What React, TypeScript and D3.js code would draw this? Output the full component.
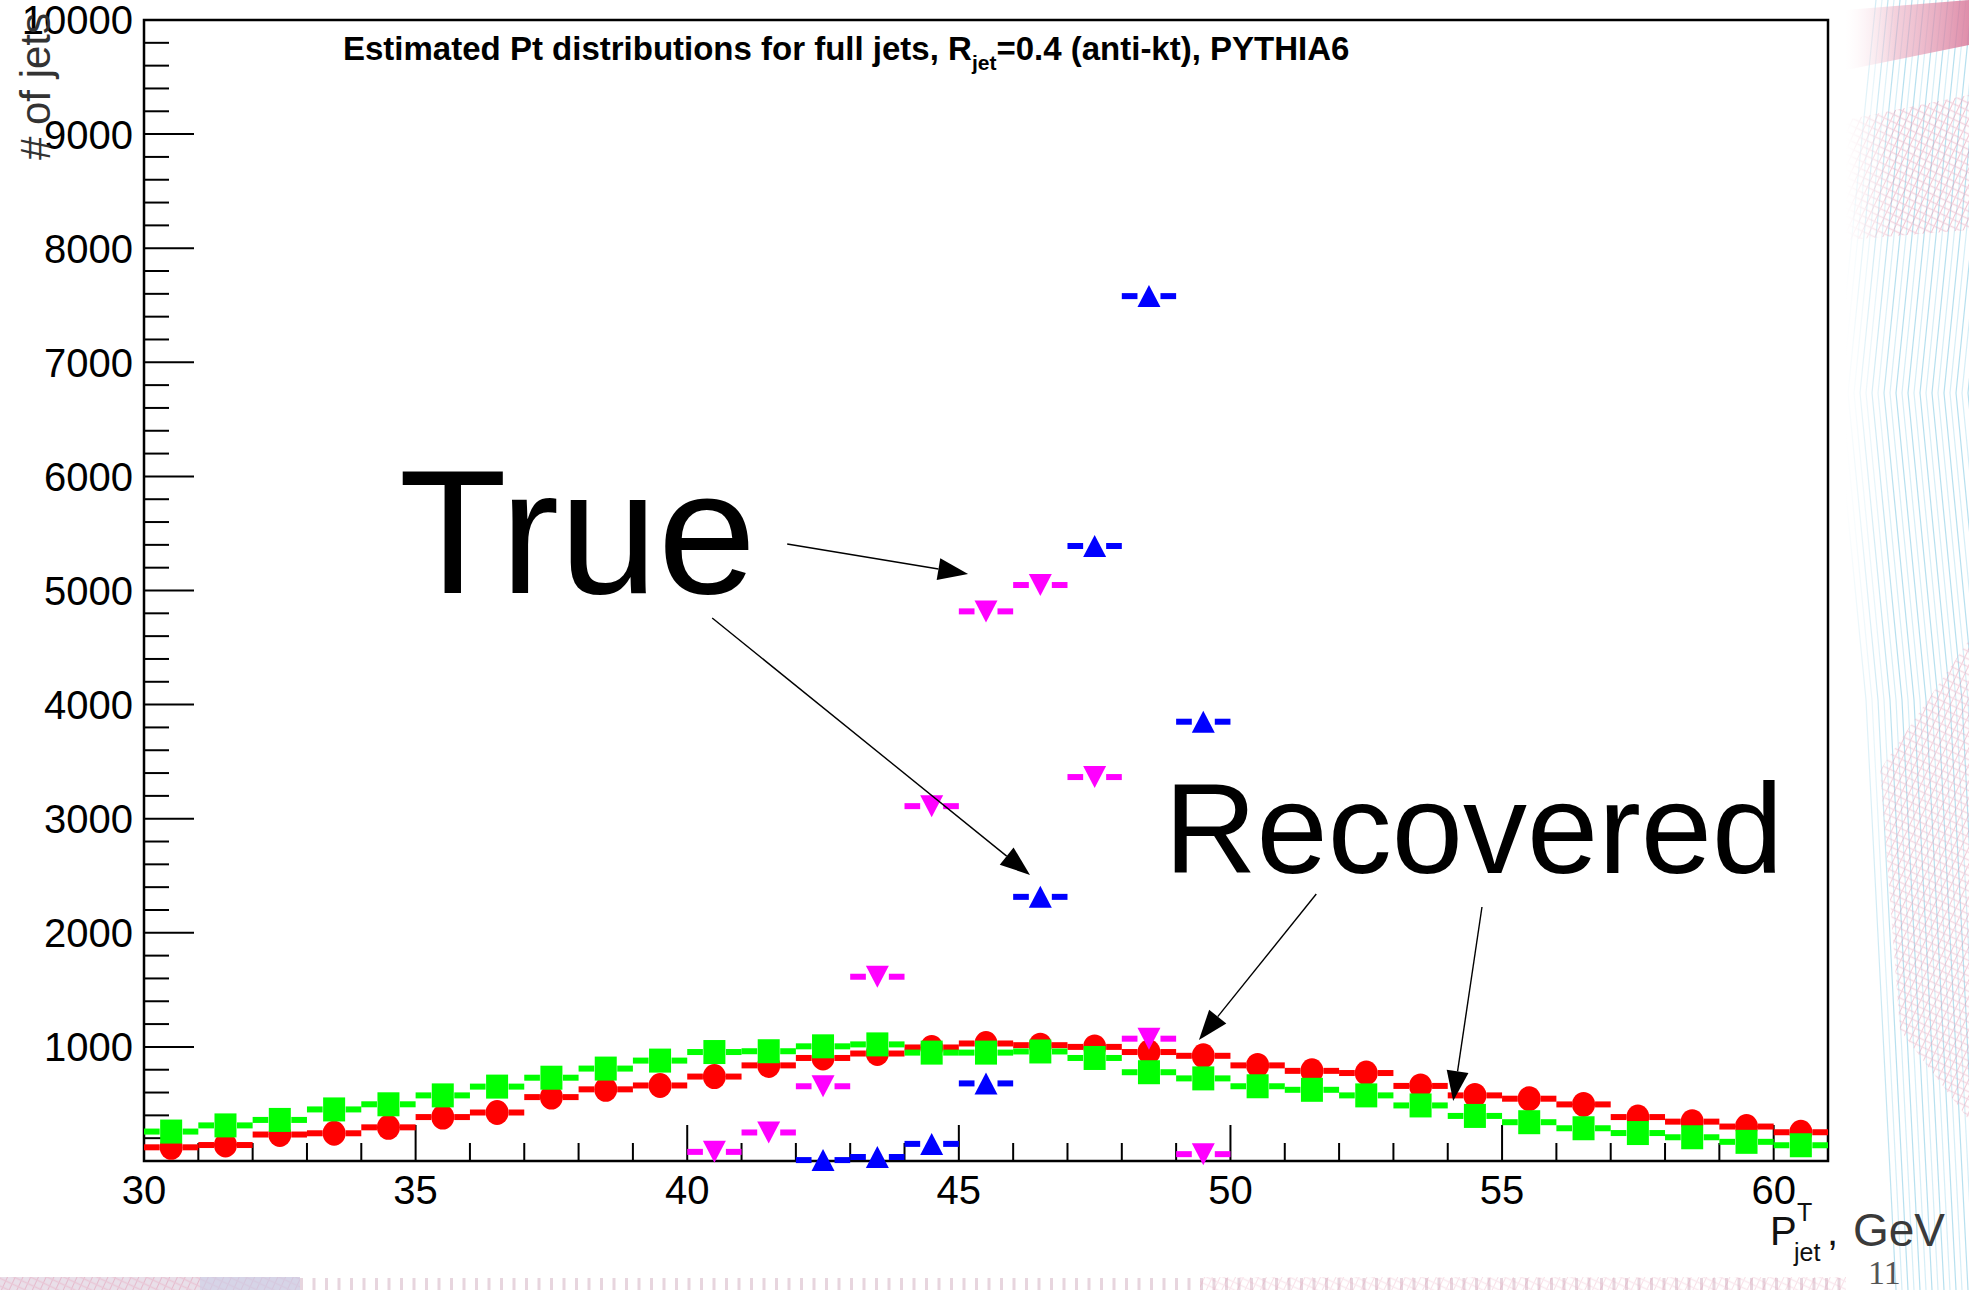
import React from "react";
import * as d3 from "d3";

const WIDTH = 1969;
const HEIGHT = 1290;

// 1 GeV bins between 30 and 61 GeV
const binCenters = [
  30.5, 31.5, 32.5, 33.5, 34.5, 35.5, 36.5, 37.5, 38.5, 39.5, 40.5, 41.5, 42.5, 43.5, 44.5, 45.5,
  46.5, 47.5, 48.5, 49.5, 50.5, 51.5, 52.5, 53.5, 54.5, 55.5, 56.5, 57.5, 58.5, 59.5, 60.5,
];

// Recovered spectra
const recoveredRed = [
  120, 140, 232, 243, 295, 385, 425, 560, 628, 662, 740, 838, 903, 942, 995, 1030, 1015, 1000, 955,
  922, 838, 790, 771, 658, 575, 546, 496, 385, 345, 302, 252,
];
const recoveredGreen = [
  258, 312, 360, 452, 497, 575, 652, 730, 810, 880, 955, 962, 1005, 1022, 950, 950, 960, 903, 778,
  724, 655, 624, 575, 487, 395, 340, 287, 245, 208, 168, 138,
];

// True spectra (only non-empty bins)
const trueBlueBins = [42.5, 43.5, 44.5, 45.5, 46.5, 47.5, 48.5, 49.5];
const trueBlue = [8, 35, 150, 680, 2315, 5390, 7580, 3850];
const trueMagentaBins = [40.5, 41.5, 42.5, 43.5, 44.5, 45.5, 46.5, 47.5, 48.5, 49.5];
const trueMagenta = [80, 250, 655, 1615, 3110, 4817, 5048, 3365, 1072, 60];

const xTickLabels = [30, 35, 40, 45, 50, 55, 60];
const yTickLabels = [1000, 2000, 3000, 4000, 5000, 6000, 7000, 8000, 9000, 10000];

// Annotation texts and arrows, in data coordinates (GeV, counts)
const annotationLabels = [
  { text: "True", px: 34.69, count: 4978, size: 177 },
  { text: "Recovered", px: 48.78, count: 2524, size: 128 },
];
const annotationArrows = [
  { x1: 41.84, y1: 5408, x2: 45.17, y2: 5145 },
  { x1: 40.46, y1: 4759, x2: 46.31, y2: 2507 },
  { x1: 51.58, y1: 2340, x2: 49.42, y2: 1060 },
  { x1: 54.63, y1: 2226, x2: 54.1, y2: 526 },
];

const FONT = "'Liberation Sans', Arial, Helvetica, sans-serif";

type Shape = "circle" | "square" | "up" | "down";

function Marker({ shape, cx, cy }: { shape: Shape; cx: number; cy: number }) {
  const h = 11.5;
  if (shape === "circle") return <ellipse cx={cx} cy={cy} rx={11.5} ry={12.5} />;
  if (shape === "square") return <rect x={cx - 11} y={cy - 12} width={22} height={24} />;
  if (shape === "up")
    return <polygon points={`${cx},${cy - 11} ${cx - h},${cy + 11} ${cx + h},${cy + 11}`} />;
  return <polygon points={`${cx},${cy + 11} ${cx - h},${cy - 11} ${cx + h},${cy - 11}`} />;
}

function Series({
  bins,
  values,
  color,
  shape,
  x,
  y,
}: {
  bins: number[];
  values: number[];
  color: string;
  shape: Shape;
  x: d3.ScaleLinear<number, number>;
  y: d3.ScaleLinear<number, number>;
}) {
  const half = 11.5;
  const barH = 6;
  return (
    <g fill={color}>
      {bins.map((b, i) => {
        const cx = x(b);
        const cy = y(values[i]);
        const xl = x(b - 0.5);
        const xr = x(b + 0.5);
        return (
          <g key={b}>
            <rect x={xl} y={cy - barH / 2} width={cx - half - xl} height={barH} />
            <rect x={cx + half} y={cy - barH / 2} width={xr - cx - half} height={barH} />
            <Marker shape={shape} cx={cx} cy={cy} />
          </g>
        );
      })}
    </g>
  );
}

function Arrow({ x1, y1, x2, y2 }: { x1: number; y1: number; x2: number; y2: number }) {
  const dx = x2 - x1;
  const dy = y2 - y1;
  const len = Math.hypot(dx, dy);
  const ux = dx / len;
  const uy = dy / len;
  const headL = 30;
  const headW = 11;
  const bx = x2 - ux * headL;
  const by = y2 - uy * headL;
  const pts = `${x2},${y2} ${bx - uy * headW},${by + ux * headW} ${bx + uy * headW},${by - ux * headW}`;
  return (
    <g>
      <line x1={x1} y1={y1} x2={bx} y2={by} stroke="#000" strokeWidth={1.4} />
      <polygon points={pts} fill="#000" />
    </g>
  );
}

function Decoration() {
  // slide template ornament: chevron line field on the right edge and a striped band at the bottom
  const chevronBases = d3.range(1836, 2000, 6);
  const stripeXs = d3.range(300, 1846, 12.5);
  return (
    <g>
      <defs>
        <pattern id="pinkHatch" width="7" height="7" patternUnits="userSpaceOnUse" patternTransform="rotate(25)">
          <rect width="7" height="7" fill="none" />
          <line x1="0" y1="0" x2="0" y2="7" stroke="#e0809e" strokeWidth="2" />
          <line x1="0" y1="3.5" x2="7" y2="3.5" stroke="#e8a4bb" strokeWidth="1.5" />
        </pattern>
        <linearGradient id="fadeRight" x1="0" x2="1" y1="0" y2="0">
          <stop offset="0" stopColor="#fff" stopOpacity="1" />
          <stop offset="0.4" stopColor="#fff" stopOpacity="0" />
        </linearGradient>
        <linearGradient id="pinkTop" x1="0" x2="1" y1="0" y2="0">
          <stop offset="0" stopColor="#f3c3d2" stopOpacity="0.3" />
          <stop offset="1" stopColor="#d97a9b" stopOpacity="0.85" />
        </linearGradient>
      </defs>
      {chevronBases.map((b, i) => (
        <polyline
          key={b}
          points={`${b + 40},0 ${b},393 ${b + 30},700 ${b + 60},1290`}
          fill="none"
          stroke={i % 2 === 0 ? "#86cbe4" : "#b9e3f2"}
          strokeWidth={1.2}
          opacity={0.6}
        />
      ))}
      <polygon points="1846,10 1969,0 1969,45 1846,70" fill="url(#pinkTop)" />
      <polygon points="1846,120 1969,95 1969,230 1846,240" fill="url(#pinkHatch)" opacity={0.45} />
      <polygon points="1880,770 1969,640 1969,1120 1900,1030" fill="url(#pinkHatch)" opacity={0.4} />
      <rect x={1846} y={0} width={123} height={1290} fill="url(#fadeRight)" />
      {/* bottom band */}
      <rect x={0} y={1277} width={300} height={13} fill="#e9dfe9" />
      <rect x={0} y={1277} width={300} height={13} fill="url(#pinkHatch)" opacity={0.4} />
      <rect x={200} y={1277} width={100} height={13} fill="#c9cde6" opacity={0.6} />
      {stripeXs.map((sx) => (
        <rect key={sx} x={sx} y={1278} width={3} height={12} fill="#e7d5de" />
      ))}
      <rect x={1200} y={1277} width={646} height={13} fill="url(#pinkHatch)" opacity={0.25} />
    </g>
  );
}

export default function App() {
  const left = 144;
  const right = 1828;
  const top = 20;
  const bottom = 1161;

  const x = d3.scaleLinear().domain([30, 61]).range([left, right]);
  const y = d3.scaleLinear().domain([0, 10000]).range([bottom, top]);

  const xMinor = d3.range(31, 61, 1).filter((v) => v % 5 !== 0);
  const yMinor = d3.range(200, 10000, 200).filter((v) => v % 1000 !== 0);

  return (
    <svg
      width={WIDTH}
      height={HEIGHT}
      viewBox={`0 0 ${WIDTH} ${HEIGHT}`}
      style={{ position: "absolute", left: 0, top: 0, display: "block", background: "#fff" }}
    >
      <rect x={0} y={0} width={WIDTH} height={HEIGHT} fill="#fff" />
      <Decoration />
      <rect x={0} y={0} width={1846} height={1277} fill="#fff" />

      {/* frame */}
      <rect x={left} y={top} width={right - left} height={bottom - top} fill="none" stroke="#000" strokeWidth={2.5} />

      {/* axis ticks */}
      <g stroke="#000" strokeWidth={2}>
        {xTickLabels.map((v) => (
          <line key={"xM" + v} x1={x(v)} x2={x(v)} y1={bottom} y2={bottom - 36} />
        ))}
        {xMinor.map((v) => (
          <line key={"xm" + v} x1={x(v)} x2={x(v)} y1={bottom} y2={bottom - 18} />
        ))}
        {yTickLabels.map((v) => (
          <line key={"yM" + v} x1={left} x2={left + 50} y1={y(v)} y2={y(v)} />
        ))}
        {yMinor.map((v) => (
          <line key={"ym" + v} x1={left} x2={left + 25} y1={y(v)} y2={y(v)} />
        ))}
      </g>

      {/* tick labels */}
      <g fontFamily={FONT} fontSize={40} fill="#000">
        {xTickLabels.map((v) => (
          <text key={"xl" + v} x={x(v)} y={1204} textAnchor="middle">
            {v}
          </text>
        ))}
        {yTickLabels.map((v) => (
          <text key={"yl" + v} x={133} y={y(v)} dy="0.36em" textAnchor="end">
            {v}
          </text>
        ))}
      </g>

      {/* axis titles */}
      <text
        fontFamily={FONT}
        fontSize={42}
        fill="#333"
        textAnchor="end"
        transform="translate(50,13) rotate(-90)"
      >
        # of jets
      </text>
      <g fontFamily={FONT}>
        <text x={1770} y={1245} fontSize={40} fill="#111">
          P
        </text>
        <text x={1797} y={1221} fontSize={25} fill="#111">
          T
        </text>
        <text x={1794} y={1261} fontSize={25} fill="#111">
          jet
        </text>
        <text x={1827} y={1245} fontSize={40} fill="#111">
          ,
        </text>
        <text x={1853} y={1246} fontSize={46} fill="#3a3a3a">
          GeV
        </text>
      </g>

      {/* title */}
      <text x={343} y={60} fontFamily={FONT} fontWeight="bold" fontSize={33} fill="#000">
        Estimated Pt distributions for full jets, R
        <tspan fontSize={21} dy={10}>
          jet
        </tspan>
        <tspan dy={-10}>=0.4 (anti-kt), PYTHIA6</tspan>
      </text>

      {/* histograms */}
      <Series bins={binCenters} values={recoveredRed} color="#ff0000" shape="circle" x={x} y={y} />
      <Series bins={binCenters} values={recoveredGreen} color="#00ff00" shape="square" x={x} y={y} />
      <Series bins={trueMagentaBins} values={trueMagenta} color="#ff00ff" shape="down" x={x} y={y} />
      <Series bins={trueBlueBins} values={trueBlue} color="#0000ff" shape="up" x={x} y={y} />

      {/* annotations */}
      {annotationLabels.map((a) => (
        <text key={a.text} x={x(a.px)} y={y(a.count)} fontFamily={FONT} fontSize={a.size} fill="#000">
          {a.text}
        </text>
      ))}
      {annotationArrows.map((a, i) => (
        <Arrow key={i} x1={x(a.x1)} y1={y(a.y1)} x2={x(a.x2)} y2={y(a.y2)} />
      ))}

      {/* page number */}
      <text x={1868} y={1284} fontFamily="'Liberation Serif', 'DejaVu Serif', serif" fontSize={34} fill="#555">
        11
      </text>
    </svg>
  );
}
